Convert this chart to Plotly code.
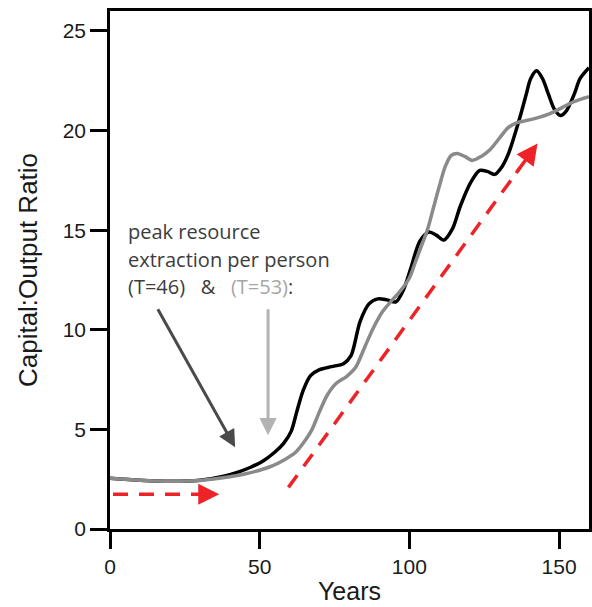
import plotly.graph_objects as go

# Capital:output ratio over time, two model runs
years_black = [0, 10, 20, 30, 38, 43, 47, 51, 55, 58, 60.5, 62.5, 64.5, 67, 70, 74, 78, 80.5,
               83.5, 86.5, 89.5, 92.5, 95.5, 98, 100.5, 103.5, 106.5, 109, 111.5, 114.5, 117,
               120.5, 123.5, 126, 128.5, 131, 133, 135, 137, 139, 140.5, 142.5, 144.5, 146.5,
               148.5, 150.5, 152.5, 155, 157, 160]
ratio_black = [2.55, 2.45, 2.40, 2.45, 2.65, 2.87, 3.1, 3.4, 3.85, 4.3, 4.9, 5.95, 6.95, 7.7, 8.0,
               8.15, 8.3, 8.7, 10.4, 11.3, 11.55, 11.5, 11.4, 12.0, 13.1, 14.45, 14.9, 14.75, 14.5,
               15.1, 16.2, 17.4, 18.0, 17.95, 17.8, 18.2, 18.8, 19.7, 20.7, 21.8, 22.6, 23.0, 22.6,
               21.8, 21.05, 20.75, 21.0, 21.8, 22.6, 23.15]

years_grey = [0, 10, 20, 30, 40, 45, 50, 54, 58, 62, 65, 67.5, 70, 72.5, 75.5, 79, 82, 85, 88,
              91, 94, 97, 100, 102, 104, 106, 108, 110, 112, 114, 116, 118.5, 121, 124, 127, 130,
              133, 136, 139, 143, 147, 151, 155, 160]
ratio_grey = [2.55, 2.45, 2.40, 2.44, 2.62, 2.76, 2.95, 3.15, 3.45, 3.85, 4.4, 5.0, 5.9, 6.7, 7.3,
              7.65, 8.1, 9.1, 10.1, 10.9, 11.45, 11.95, 12.6, 13.4, 14.2, 15.0, 16.1, 17.2, 18.2,
              18.75, 18.85, 18.7, 18.5, 18.7, 19.05, 19.6, 20.15, 20.4, 20.5, 20.65, 20.85, 21.15,
              21.45, 21.7]

# Trend arrows (dashed red): flat phase then growth phase
flat_x = [1, 36.5]
flat_y = [1.74, 1.74]
growth_x = [59.6, 142.8]
growth_y = [2.09, 19.35]

# Pointer arrows to peak-extraction years
peak_black = dict(x0=15.7, y0=11.1, x1=41.8, y1=4.1)
peak_grey = dict(x0=52.8, y0=11.1, x1=52.8, y1=4.7)

x_ticks = [0, 50, 100, 150]
y_ticks = [0, 5, 10, 15, 20, 25]

RED = "#ee2328"

fig = go.Figure()

fig.add_trace(go.Scatter(x=years_black, y=ratio_black, mode="lines",
                         line=dict(color="black", width=3.5, shape="spline", smoothing=0.8),
                         hoverinfo="skip"))
fig.add_trace(go.Scatter(x=years_grey, y=ratio_grey, mode="lines",
                         line=dict(color="#8a8a8a", width=3.5, shape="spline", smoothing=0.8),
                         hoverinfo="skip"))

# dashed shafts of the red arrows (stop short of the heads)
def shaft(xs, ys, frac):
    return [xs[0], xs[0] + (xs[1] - xs[0]) * frac], [ys[0], ys[0] + (ys[1] - ys[0]) * frac]

for xs, ys, frac in [(flat_x, flat_y, 0.86), (growth_x, growth_y, 0.93)]:
    sx, sy = shaft(xs, ys, frac)
    fig.add_trace(go.Scatter(x=sx, y=sy, mode="lines",
                             line=dict(color=RED, width=3.5, dash="15px,11px"),
                             hoverinfo="skip"))

annotations = []
# red arrow heads
for xs, ys, frac in [(flat_x, flat_y, 0.84), (growth_x, growth_y, 0.91)]:
    annotations.append(dict(x=xs[1], y=ys[1], ax=xs[0] + (xs[1] - xs[0]) * frac,
                            ay=ys[0] + (ys[1] - ys[0]) * frac, xref="x", yref="y",
                            axref="x", ayref="y", showarrow=True, arrowhead=2,
                            arrowsize=1.2, arrowwidth=3.5, arrowcolor=RED, text=""))

# grey pointer arrows
for p, col in [(peak_black, "#4a4a4a"), (peak_grey, "#b3b3b3")]:
    annotations.append(dict(x=p["x1"], y=p["y1"], ax=p["x0"], ay=p["y0"], xref="x", yref="y",
                            axref="x", ayref="y", showarrow=True, arrowhead=2,
                            arrowsize=1.15, arrowwidth=3, arrowcolor=col, text=""))

note_font = dict(family="Open Sans", size=20, color="#3c3c3c")
note_lines = [
    "peak resource",
    "extraction per person",
    "(T=46)\u00a0\u00a0\u00a0&\u00a0\u00a0\u00a0<span style='color:#a6a6a6'>(T=53)</span>:",
]
note_y = [14.95, 13.55, 12.15]
for txt, yy in zip(note_lines, note_y):
    annotations.append(dict(x=5.2, y=yy, xref="x", yref="y", text=txt, showarrow=False,
                            xanchor="left", yanchor="middle", font=note_font))

fig.update_layout(
    width=592, height=607,
    margin=dict(l=110, r=0, t=11, b=78),
    plot_bgcolor="white", paper_bgcolor="white",
    showlegend=False,
    annotations=annotations,
    font=dict(family="Liberation Sans, Arial, sans-serif", color="#1a1a1a"),
)
fig.update_xaxes(range=[0, 160], tickvals=x_ticks, ticks="outside", ticklen=17, tickwidth=2.5,
                 tickcolor="black", showline=True, linecolor="black", linewidth=2.5,
                 mirror=True, showgrid=False, zeroline=False, tickfont=dict(size=21),
                 title=dict(text="Years", font=dict(size=25), standoff=6))
fig.update_yaxes(range=[0, 26], tickvals=y_ticks, ticks="outside", ticklen=17, tickwidth=2.5,
                 tickcolor="black", showline=True, linecolor="black", linewidth=2.5,
                 mirror=True, showgrid=False, zeroline=False, tickfont=dict(size=21),
                 title=dict(text="Capital:Output Ratio", font=dict(size=26), standoff=18))

fig.write_html("out.html")
